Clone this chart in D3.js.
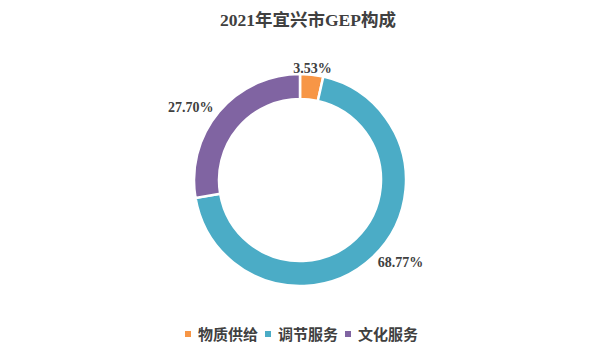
<!DOCTYPE html>
<html><head><meta charset="utf-8">
<script src="https://cdn.jsdelivr.net/npm/d3@7"></script>
<style>body{margin:0;background:#fff}</style>
</head><body>
<svg id="c" width="600" height="360"></svg>
<script>
const categories = ["物质供给", "调节服务", "文化服务"];
const values = [3.53, 68.77, 27.70];
const labels = ["3.53%", "68.77%", "27.70%"];
const colors = ["#F79646", "#4BACC6", "#8064A2"];
const title = "2021年宜兴市GEP构成";

const svg = d3.select("#c");
const cx = 300, cy = 180, R = 106, r = 81;
const fontSerif = "'Liberation Serif','Times New Roman','Noto Sans CJK SC',serif";

svg.append("text").attr("x", 308).attr("y", 26).attr("text-anchor", "middle")
  .attr("font-family", fontSerif).attr("font-weight", "bold").attr("font-size", 17.5)
  .attr("fill", "#404040").text(title);

const pie = d3.pie().sort(null).value(d => d)(values);
const arc = d3.arc().innerRadius(r).outerRadius(R);
const g = svg.append("g").attr("transform", `translate(${cx},${cy})`);
g.selectAll("path").data(pie).join("path")
  .attr("d", arc).attr("fill", (d, i) => colors[i])
  .attr("stroke", "#fff").attr("stroke-width", 2.5);

const lab = d3.arc().innerRadius(113).outerRadius(113);
const anchors = ["middle", "start", "end"];
g.selectAll("text.l").data(pie).join("text").attr("class", "l")
  .attr("transform", d => { const c = lab.centroid(d); return `translate(${c[0]},${c[1]})`; })
  .attr("text-anchor", (d, i) => anchors[i]).attr("dy", "0.35em")
  .attr("font-family", fontSerif).attr("font-weight", "bold").attr("font-size", 14)
  .attr("fill", "#404040").text((d, i) => labels[i]);

const legend = svg.append("g");
const lx = [185, 265, 345];
categories.forEach((c, i) => {
  legend.append("rect").attr("x", lx[i]).attr("y", 331).attr("width", 6).attr("height", 6).attr("fill", colors[i]);
  legend.append("text").attr("x", lx[i] + 13).attr("y", 339.5)
    .attr("font-family", "'Noto Sans CJK SC',sans-serif").attr("font-weight", "bold").attr("font-size", 15)
    .attr("fill", "#404040").text(c);
});
</script>
</body></html>
